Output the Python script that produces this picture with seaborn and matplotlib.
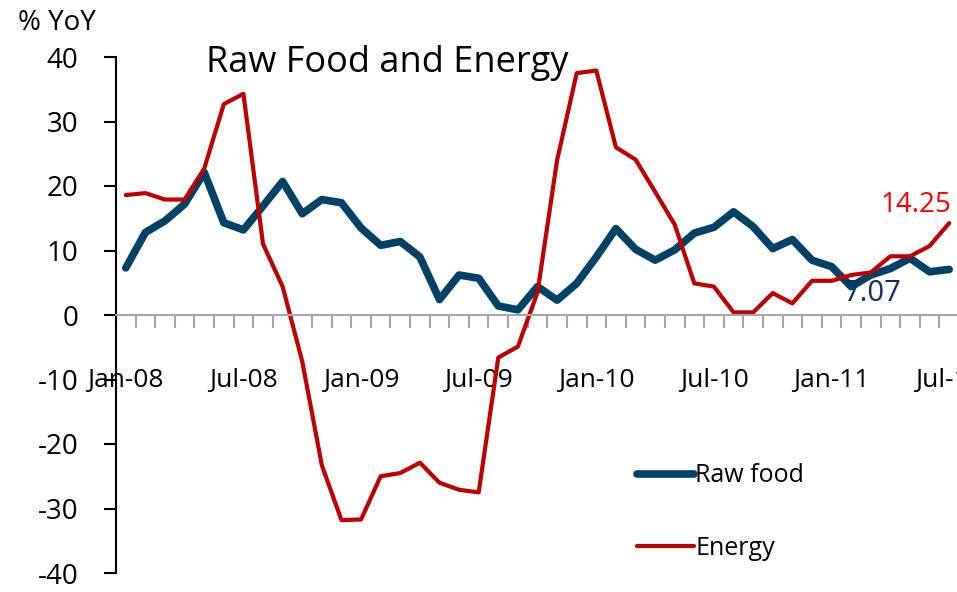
import numpy as np
import pandas as pd
import seaborn as sns
import matplotlib.pyplot as plt

# monthly % YoY, Jan-08 .. Jul-11
months = pd.date_range("2008-01-01", "2011-07-01", freq="MS")
raw_food = [7.3, 12.8, 14.6, 17.2, 22.1, 14.3, 13.2, 16.9, 20.7, 15.7, 17.9, 17.4,
            13.5, 10.8, 11.4, 9.0, 2.4, 6.2, 5.7, 1.4, 0.8, 4.4, 2.3, 4.9,
            9.0, 13.4, 10.2, 8.5, 10.1, 12.7, 13.6, 16.0, 13.7, 10.3, 11.7, 8.5,
            7.5, 4.4, 6.2, 7.2, 8.8, 6.7, 7.07]
energy = [18.6, 18.9, 17.9, 17.9, 22.7, 32.7, 34.3, 11.0, 4.4, -7.2, -23.3, -31.8,
          -31.7, -25.0, -24.5, -22.9, -26.0, -27.1, -27.5, -6.6, -4.9, 3.5, 24.0, 37.5,
          37.9, 26.0, 24.1, 19.1, 14.0, 4.9, 4.4, 0.4, 0.4, 3.4, 1.8, 5.3,
          5.3, 6.2, 6.6, 9.1, 9.1, 10.7, 14.25]
tick_labels = ["Jan-08", "Jul-08", "Jan-09", "Jul-09", "Jan-10", "Jul-10", "Jan-11", "Jul-11"]

df = pd.DataFrame({"idx": np.arange(len(months)), "Raw food": raw_food, "Energy": energy})

sns.set_style("white")
plt.rcParams["font.family"] = ["Open Sans", "DejaVu Sans"]
plt.rcParams["axes.unicode_minus"] = False
plt.rcParams["text.color"] = "black"
plt.rcParams["xtick.labelcolor"] = "black"
plt.rcParams["ytick.labelcolor"] = "black"

blue = "#004266"
red = "#C00000"

fig = plt.figure(figsize=(9.57, 5.92), dpi=100)
ax = fig.add_axes([116 / 957, 19 / 592, 843 / 957, 516 / 592])

sns.lineplot(data=df, x="idx", y="Raw food", color=blue, linewidth=5.5,
             solid_capstyle="round", label="Raw food", ax=ax)
sns.lineplot(data=df, x="idx", y="Energy", color=red, linewidth=3,
             solid_capstyle="round", label="Energy", ax=ax)

ax.set_xlim(-0.5, len(months) - 0.5)
ax.set_ylim(-40, 40)
ax.set_xlabel("")
ax.set_ylabel("")

# spines
for s in ["top", "right"]:
    ax.spines[s].set_visible(False)
ax.spines["left"].set_color("black")
ax.spines["left"].set_linewidth(1.5)
ax.spines["bottom"].set_position(("data", 0))
ax.spines["bottom"].set_color("#A6A6A6")
ax.spines["bottom"].set_linewidth(1.5)

# y ticks
ax.set_yticks(np.arange(-40, 41, 10))
ax.tick_params(axis="y", left=True, direction="out", length=9, width=1.5, color="black",
               labelsize=20, pad=18, labelcolor="black")

# x ticks: gray ticks between months, labels every 6 months
ax.set_xticks(np.arange(-0.5, len(months), 1.0))
ax.set_xticklabels([])
ax.tick_params(axis="x", which="major", bottom=True, direction="out", length=9, width=1.5,
               color="#A6A6A6")
ax.set_xticks(np.arange(0, len(months), 6), minor=True)
ax.set_xticklabels(tick_labels, minor=True)
ax.tick_params(axis="x", which="minor", bottom=True, length=0, labelsize=19, pad=38,
               labelcolor="black")
ax.grid(False)

# texts
fig.text(18 / 957, 1 - 23 / 592, "% YoY", fontsize=20, va="center", ha="left", color="black")
ax.text(206 / 957, 1 - 63 / 592, "Raw Food and Energy", transform=fig.transFigure,
        fontsize=26, va="center", ha="left", color="black")
ax.annotate("14.25", xy=(len(months) - 1, energy[-1]), xytext=(-24, 13),
            textcoords="offset points", color="#FF0000", fontsize=20,
            ha="center", va="center")
ax.annotate("7.07", xy=(len(months) - 1, raw_food[-1]), xytext=(-55, -17),
            textcoords="offset points", color="#0F2D69", fontsize=21,
            ha="center", va="center")

leg = ax.legend(loc="upper left", bbox_to_anchor=(624 / 957, 1 - 451 / 592),
                bbox_transform=fig.transFigure, frameon=False, fontsize=18,
                handlelength=2.3, handletextpad=0.05, labelspacing=1.9, borderpad=0)
for t in leg.get_texts():
    t.set_color("black")

fig.savefig("out.png", dpi=100)
